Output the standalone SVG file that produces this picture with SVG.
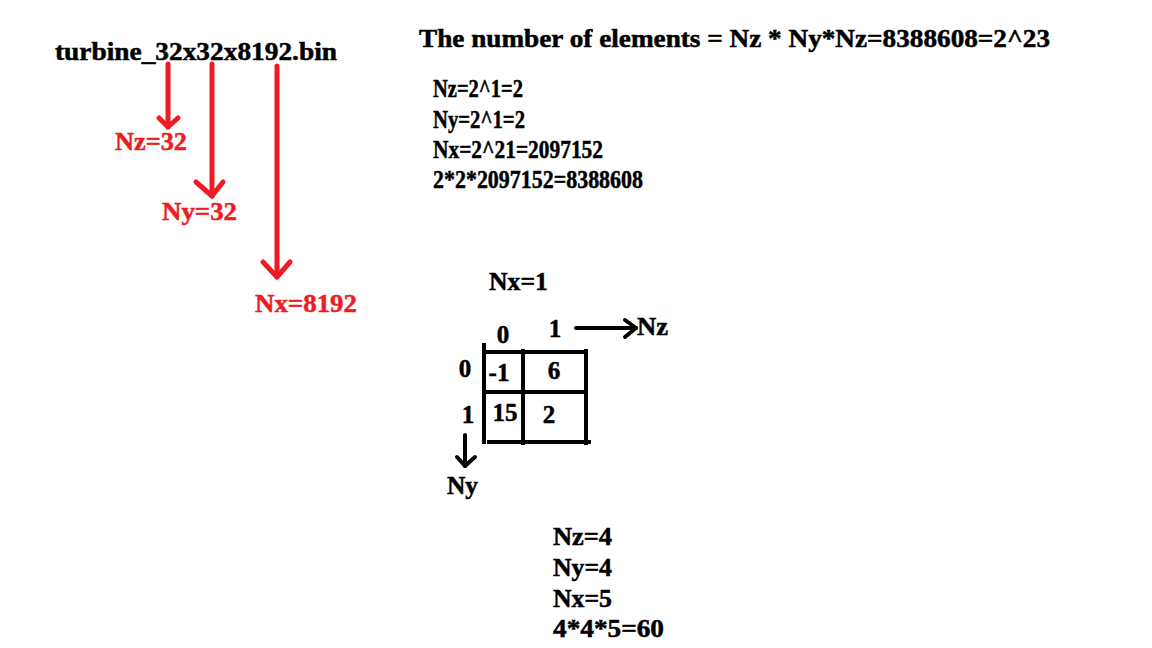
<svg xmlns="http://www.w3.org/2000/svg" width="1152" height="648" viewBox="0 0 1152 648">
<style>
text{font-family:"Liberation Serif","Times New Roman",serif;font-weight:bold;font-size:25px;fill:#000;stroke:#000;stroke-width:0.5}
.red{fill:#ED1C24;stroke:#ED1C24}
.ra{stroke:#ED1C24;stroke-width:5;fill:none;stroke-linecap:round;stroke-linejoin:round}
.ba{stroke:#000;stroke-width:4;fill:none;stroke-linecap:round;stroke-linejoin:round}
.grid{stroke:#000;stroke-width:4;fill:none;stroke-linecap:square}
</style>
<rect width="1152" height="648" fill="#fff"/>
<g id="filename"><text x="55" y="60" textLength="282" lengthAdjust="spacingAndGlyphs">turbine_32x32x8192.bin</text></g>
<g id="nz32"><text class="red" x="115" y="150" textLength="72" lengthAdjust="spacingAndGlyphs">Nz=32</text></g>
<g id="ny32"><text class="red" x="162" y="220" textLength="75" lengthAdjust="spacingAndGlyphs">Ny=32</text></g>
<g id="nx8192"><text class="red" x="255" y="312" textLength="102" lengthAdjust="spacingAndGlyphs">Nx=8192</text></g>
<g id="title"><text x="419" y="47" font-size="26" textLength="631" lengthAdjust="spacingAndGlyphs">The number of elements = Nz * Ny*Nz=8388608=2^23</text></g>
<g id="calc1">
<text x="433" y="97" textLength="90" lengthAdjust="spacingAndGlyphs">Nz=2^1=2</text>
<text x="433" y="128" textLength="92" lengthAdjust="spacingAndGlyphs">Ny=2^1=2</text>
<text x="433" y="158" textLength="170" lengthAdjust="spacingAndGlyphs">Nx=2^21=2097152</text>
<text x="433" y="188" textLength="210" lengthAdjust="spacingAndGlyphs">2*2*2097152=8388608</text>
</g>
<g id="nx1"><text x="489" y="290" textLength="59" lengthAdjust="spacingAndGlyphs">Nx=1</text></g>
<g id="grid">
<line class="grid" x1="484" y1="345" x2="484" y2="442"/>
<line class="grid" x1="523" y1="351" x2="523" y2="443"/>
<line class="grid" x1="586" y1="351" x2="586" y2="443"/>
<line class="grid" x1="484" y1="352" x2="586" y2="352"/>
<line class="grid" x1="484" y1="392" x2="586" y2="392"/>
<line class="grid" x1="489" y1="442" x2="589" y2="442"/>
<text x="503" y="343" text-anchor="middle">0</text>
<text x="555" y="337" text-anchor="middle">1</text>
<text x="465" y="377" text-anchor="middle">0</text>
<text x="468" y="423" text-anchor="middle">1</text>
<text x="499" y="381" text-anchor="middle">-1</text>
<text x="554" y="379" text-anchor="middle">6</text>
<text x="505" y="421" text-anchor="middle">15</text>
<text x="549" y="423" text-anchor="middle">2</text>
</g>
<g id="nzaxis"><text x="637" y="335" textLength="31" lengthAdjust="spacingAndGlyphs">Nz</text></g>
<g id="nyaxis"><text x="447" y="494" textLength="31" lengthAdjust="spacingAndGlyphs">Ny</text></g>
<g id="calc2">
<text x="553" y="545" textLength="59" lengthAdjust="spacingAndGlyphs">Nz=4</text>
<text x="553" y="576" textLength="59" lengthAdjust="spacingAndGlyphs">Ny=4</text>
<text x="553" y="607" textLength="59" lengthAdjust="spacingAndGlyphs">Nx=5</text>
<text x="553" y="637" textLength="111" lengthAdjust="spacingAndGlyphs">4*4*5=60</text>
</g>
<g id="connectors">
<line class="ra" x1="168" y1="64" x2="168" y2="127"/>
<polyline class="ra" points="159,118 168,127 178,118"/>
<line class="ra" x1="212" y1="64" x2="212" y2="196"/>
<polyline class="ra" points="196,182 212,196 223,182"/>
<line class="ra" x1="277" y1="66" x2="277" y2="277"/>
<polyline class="ra" points="263,262 277,277 290,262"/>
<line class="ba" x1="576" y1="328" x2="636" y2="328"/>
<polyline class="ba" points="625,320 636,328 625,337"/>
<line class="ba" x1="465" y1="435" x2="465" y2="466"/>
<polyline class="ba" points="457,457 465,466 475,457"/>
</g>
</svg>
